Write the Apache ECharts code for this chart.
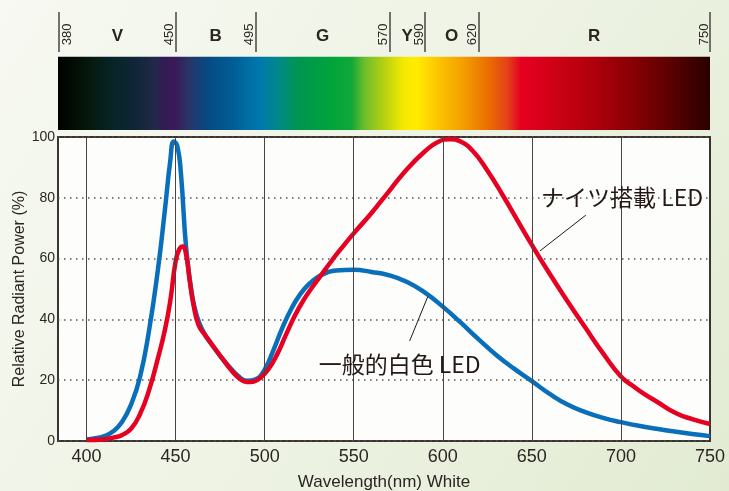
<!DOCTYPE html>
<html><head><meta charset="utf-8">
<script src="https://cdn.jsdelivr.net/npm/echarts@6/dist/echarts.min.js"></script>
<style>html,body{margin:0;padding:0;width:729px;height:491px;overflow:hidden}#c{width:729px;height:491px}</style>
</head><body><div id="c"></div>
<script>
// ---- data ----
const xTicks = [400, 450, 500, 550, 600, 650, 700, 750];
const yTicks = [0, 20, 40, 60, 80, 100];
const spectrumTicks = [380, 450, 495, 570, 590, 620, 750];
const bandNames = ['V', 'B', 'G', 'Y', 'O', 'R'];

const whiteLedNm = [400,405,410,415,420,425,430,435,440,444,447,449,451,453,456,459,462,466,470,475,480,485,490,495,500,505,510,515,520,525,530,535,540,550,560,570,580,590,600,610,620,630,640,650,660,670,680,690,700,710,720,730,740,750];
const whiteLedPower = [0.5,0.9,1.6,3.2,6.3,12,21,36,56,76,92,98.5,97,88,63,49,41,35.5,32,28,24.5,21.5,19.8,20.3,23.5,30,37.3,43.5,48.3,51.7,54,55.4,56.1,56.3,55.6,54.5,52.3,48.8,44.2,39,33.5,28.3,23.8,19.7,15.5,12,9.5,7.6,6.2,5,4,3.1,2.3,1.6];

const knightsLedNm = [400,410,415,420,425,430,435,440,444,447,450,452,454,456,458,460,463,467,472,477,482,486,490,494,498,502,507,512,517,522,527,532,537,542,550,560,570,580,590,597,604,610,617,625,634,642,650,660,670,680,690,700,707,713,720,731,740,750];
const knightsLedPower = [0.3,0.6,1.1,2,4,8.8,16.5,27,36.5,46,59,63,64,61,52.5,45,38,34.5,30.5,26.5,22.8,20.5,19.4,19.6,21,23.5,28.5,35,41.3,46.5,50.8,54.8,58.8,62.6,68.3,75,82.3,89.5,95.3,98.3,99.3,98.5,95.3,89,80.5,72.5,64.5,55,46,37.3,28.8,21.2,18,15.5,13,9.1,7.2,5.6];

const whiteLabel = '一般的白色 LED';
const knightsLabel = 'ナイツ搭載 LED';

// ---- build ----
const X_MIN = 384, X_MAX = 750;
const zip = (a, b) => a.map((v, i) => [v, b[i]]);
const ink = '#2b2523';

const specStops = [
  [0.00,'#000000'],[0.04,'#061508'],[0.08,'#062424'],[0.12,'#102638'],[0.15,'#24284a'],
  [0.16,'#331c55'],[0.18,'#3a1a58'],[0.20,'#2a3468'],[0.23,'#064a82'],[0.27,'#005f96'],
  [0.29,'#006ca2'],[0.31,'#0078ae'],[0.34,'#008a86'],[0.37,'#00954e'],[0.42,'#00a43c'],
  [0.45,'#10a838'],[0.47,'#6cbd2c'],[0.50,'#b6d012'],[0.53,'#f4ea00'],[0.55,'#ffec00'],
  [0.58,'#fcc800'],[0.62,'#f4a000'],[0.66,'#ea6e00'],[0.69,'#e4401a'],[0.71,'#e60020'],
  [0.75,'#d40018'],[0.82,'#b0000c'],[0.88,'#880004'],[0.94,'#5a0000'],[1.00,'#2a0000']
];
const specGradient = new echarts.graphic.LinearGradient(0, 0, 1, 0,
  specStops.map(s => ({offset: s[0], color: s[1]})));

const clampNm = v => Math.max(X_MIN + 0.6, v);
const bandCenters = bandNames.map((n, i) => (clampNm(spectrumTicks[i]) + spectrumTicks[i + 1]) / 2);

const chart = echarts.init(document.getElementById('c'), null, {renderer: 'canvas'});
const option = {
  animation: false,
  backgroundColor: new echarts.graphic.LinearGradient(0, 0, 1, 1, [
    {offset: 0, color: '#f7f9f2'}, {offset: 0.5, color: '#eef3e4'}, {offset: 1, color: '#e2ebd2'}
  ]),
  grid: [
    {left: 58, right: 19, top: 137, bottom: 50, show: true, backgroundColor: '#fdfdfb',
     borderColor: '#3b3532', borderWidth: 2, containLabel: false, outerBoundsMode: 'none'},
    {left: 58, right: 19, top: 12, height: 118, containLabel: false, outerBoundsMode: 'none'}
  ],
  xAxis: [
    {type: 'value', gridIndex: 0, min: X_MIN, max: X_MAX,
     name: 'Wavelength(nm) White', nameLocation: 'middle', nameGap: 33,
     nameTextStyle: {fontFamily: 'Liberation Sans', fontSize: 17, color: ink},
     axisLine: {show: false}, axisTick: {show: false}, splitLine: {show: false},
     axisLabel: {customValues: xTicks, fontFamily: 'Liberation Sans', fontSize: 18, color: ink, margin: 7}},
    {type: 'value', gridIndex: 1, min: X_MIN, max: X_MAX, show: false}
  ],
  yAxis: [
    {type: 'value', gridIndex: 0, min: 0, max: 100, interval: 20,
     name: 'Relative Radiant Power (%)', nameLocation: 'middle', nameGap: 30, nameMoveOverlap: false,
     nameTextStyle: {fontFamily: 'Liberation Sans', fontSize: 16, color: ink},
     axisLine: {show: false}, axisTick: {show: false},
     axisLabel: {fontFamily: 'Liberation Sans', fontSize: 14, color: ink, margin: 3},
     splitLine: {show: true, lineStyle: {color: '#5a5350', width: 1.5, type: [1.5, 4.5]}}},
    {type: 'value', gridIndex: 1, min: 0, max: 100, show: false}
  ],
  series: [
    {type: 'line', xAxisIndex: 0, yAxisIndex: 0, data: [], silent: true, z: 1,
     markLine: {silent: true, symbol: 'none', label: {show: false},
       lineStyle: {color: '#4a4442', width: 1, type: 'solid'},
       data: xTicks.filter(v => v < X_MAX).map(v => [{coord: [v, 0]}, {coord: [v, 100]}])}},
    {type: 'line', name: whiteLabel, xAxisIndex: 0, yAxisIndex: 0, data: zip(whiteLedNm, whiteLedPower),
     smooth: 0.5, showSymbol: false, lineStyle: {color: '#0a6fba', width: 4.5}, z: 3,
     markLine: {silent: true, symbol: 'none', label: {show: false}, lineStyle: {color: '#231815', width: 1, type: 'solid'},
       data: [[{coord: [591.5, 47.4]}, {coord: [581.4, 32.9]}]]},
     markPoint: {silent: true, symbol: 'circle', symbolSize: 0,
       data: [{coord: [575.8, 25.3], label: {show: true, formatter: whiteLabel, position: 'inside',
         fontFamily: 'Noto Sans CJK JP', fontSize: 23, color: '#231815'}}]}},
    {type: 'line', name: knightsLabel, xAxisIndex: 0, yAxisIndex: 0, data: zip(knightsLedNm, knightsLedPower),
     smooth: 0.5, showSymbol: false, lineStyle: {color: '#e60021', width: 4.5}, z: 4,
     markLine: {silent: true, symbol: 'none', label: {show: false}, lineStyle: {color: '#231815', width: 1, type: 'solid'},
       data: [[{coord: [654.5, 62.5]}, {coord: [680.3, 74.3]}]]},
     markPoint: {silent: true, symbol: 'circle', symbolSize: 0,
       data: [{coord: [700.6, 80.3], label: {show: true, formatter: knightsLabel, position: 'inside',
         fontFamily: 'Noto Sans CJK JP', fontSize: 23, color: '#231815'}}]}},
    {type: 'line', xAxisIndex: 1, yAxisIndex: 1, data: [], silent: true,
     markArea: {silent: true, itemStyle: {color: specGradient, opacity: 1},
       data: [[{coord: [X_MIN - 0.6, 0]}, {coord: [X_MAX, 62]}]]},
     markLine: {silent: true, symbol: 'none', label: {show: false},
       lineStyle: {color: '#4a4442', width: 1.5, type: 'solid'},
       data: spectrumTicks.map(v => [{coord: [clampNm(v), 66]}, {coord: [clampNm(v), 100]}])},
     markPoint: {silent: true, symbol: 'circle', symbolSize: 0,
       data: spectrumTicks.map((v, i) => ({coord: [clampNm(v), 81],
         label: {show: true, formatter: String(v), rotate: 90, position: 'inside',
           offset: [0, i === 0 ? 8 : -6], fontFamily: 'Liberation Sans', fontSize: 13, color: ink}}))
         .concat(bandNames.map((n, i) => ({coord: [bandCenters[i], 79],
           label: {show: true, formatter: n, position: 'inside', fontFamily: 'Liberation Sans',
             fontWeight: 'bold', fontSize: 17, color: ink}})))}}
  ]
};
chart.setOption(option);
</script>
</body></html>
